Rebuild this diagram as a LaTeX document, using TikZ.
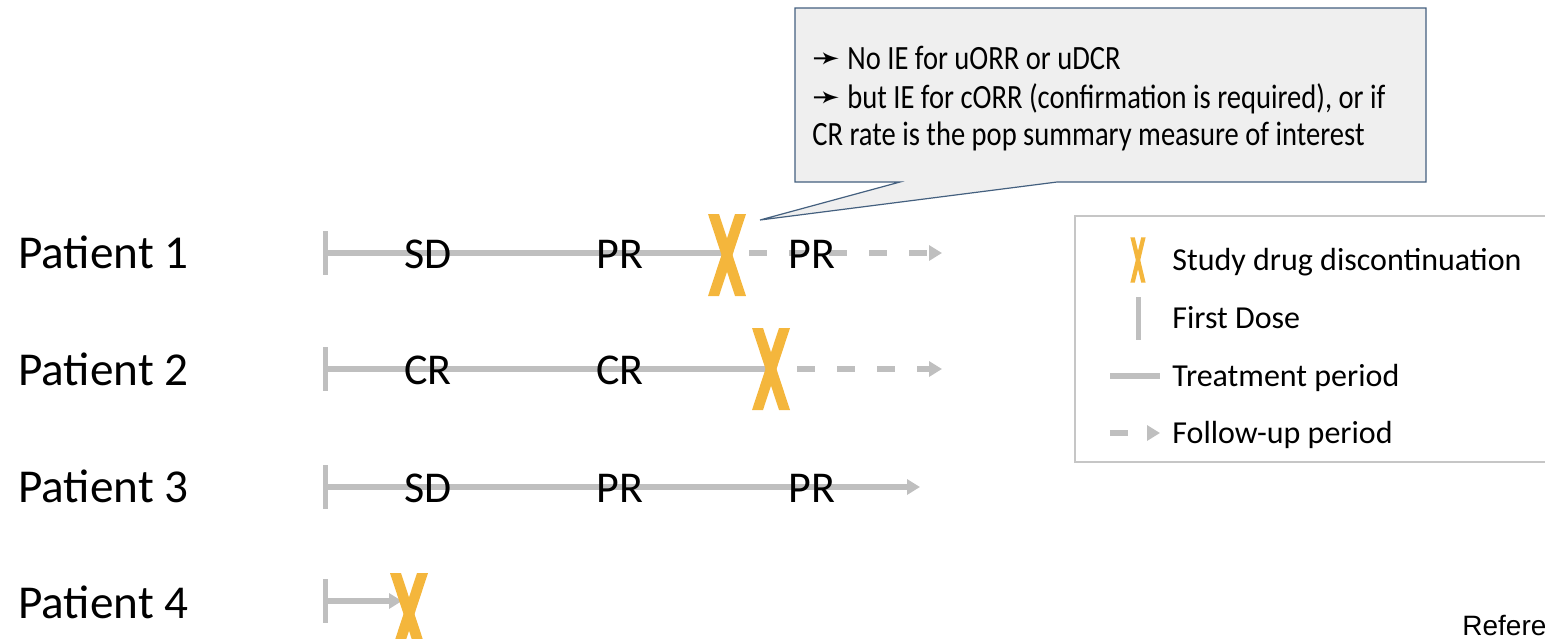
\documentclass[tikz,border=0pt]{standalone}
\usepackage{fontspec}
\setmainfont{Carlito}
\newfontfamily\condfont[FakeStretch=0.84]{Carlito}
\newfontfamily\symfont{DejaVu Sans}
\newfontfamily\helvfont{Liberation Sans}
\usetikzlibrary{arrows.meta}
\definecolor{tgray}{HTML}{BFBFBF}
\definecolor{xorange}{HTML}{F4B63C}
\definecolor{calloutfill}{HTML}{EFEFEF}
\definecolor{calloutdraw}{HTML}{44607F}
\definecolor{legdraw}{HTML}{C6C6C6}
\tikzset{
  treat/.style={draw=tgray, line width=3pt},
  follow/.style={draw=tgray, line width=3pt, dash pattern=on 9pt off 11pt},
  tipped/.style={-{Triangle[length=6.5pt,width=7.5pt]}},
  firstdose/.style={draw=tgray, line width=2.5pt},
  ptlabel/.style={font=\fontsize{23.6}{26}\selectfont, anchor=base west, inner sep=0pt},
  resp/.style={font=\fontsize{22}{26}\selectfont, anchor=base, inner sep=0pt},
  legtext/.style={font=\fontsize{16}{19}\selectfont, anchor=base west, inner sep=0pt},
  calltext/.style={font=\condfont\fontsize{17}{19}\selectfont, anchor=base west, inner sep=0pt},
  xcross/.pic={
    \fill[xorange] (-19,-41) -- (-8,-41) -- (19,41) -- (8,41) -- cycle;
    \fill[xorange] (8,-41) -- (19,-41) -- (-8,41) -- (-19,41) -- cycle;
  }
}
\begin{document}
\begin{tikzpicture}[x=0.5pt,y=-0.5pt]
\useasboundingbox (0,0) rectangle (1545,638);
\clip (0,0) rectangle (1545,638);

% callout
\draw[fill=calloutfill, draw=calloutdraw, line width=0.6pt]
  (795,8) -- (1426,8) -- (1426,182) -- (1057,182) -- (760,220) -- (900,182) -- (795,182) -- cycle;
\node[calltext] (c1) at (812,69) {{\symfont ➛}\ No IE for uORR or uDCR};
\node[calltext] (c2) at (812,108) {{\symfont ➛}\ but IE for cORR (confirmation is required), or if};
\node[calltext] (c3) at (812,145) {CR rate is the pop summary measure of interest};

% patient labels
\node[ptlabel] (p1) at (18,268) {Patient 1};
\node[ptlabel] (p2) at (18,385) {Patient 2};
\node[ptlabel] (p3) at (18,502) {Patient 3};
\node[ptlabel] (p4) at (18,618) {Patient 4};

% coordinates
\coordinate (s1) at (325,253);
\coordinate (x1) at (727,255);
\coordinate (f1) at (749,253);
\coordinate (e1) at (942,253);
\coordinate (s2) at (325,369);
\coordinate (x2) at (771,369);
\coordinate (f2) at (797,369);
\coordinate (e2) at (942,369);
\coordinate (s3) at (325,487);
\coordinate (e3) at (920,487);
\coordinate (s4) at (325,601);
\coordinate (e4) at (402,601);
\coordinate (x4) at (409,614);

% first dose ticks
\foreach \s in {s1,s2,s3,s4}
  \draw[firstdose] ([yshift=11pt]\s) -- ([yshift=-11pt]\s);

% patient 1
\draw[treat] (s1) -- (x1 |- s1);
\draw[follow,tipped] (f1) -- (e1);
\node[resp] (r11) at (428,268) {SD};
\node[resp] (r12) at (620,268) {PR};
\node[resp] (r13) at (812,268) {PR};
\pic at (x1) {xcross};

% patient 2
\draw[treat] (s2) -- (x2);
\draw[follow,tipped] (f2) -- (e2);
\node[resp] (r21) at (428,384) {CR};
\node[resp] (r22) at (620,384) {CR};
\pic at (x2) {xcross};

% patient 3
\draw[treat,tipped] (s3) -- (e3);
\node[resp] (r31) at (428,502) {SD};
\node[resp] (r32) at (620,502) {PR};
\node[resp] (r33) at (812,502) {PR};

% patient 4
\draw[treat,tipped] (s4) -- (e4);
\pic at (x4) {xcross};

% legend
\draw[legdraw, line width=0.8pt] (1075,216) rectangle (1565,462);
\pic[xscale=0.4, yscale=0.55] at (1138,260) {xcross};
\coordinate (ld1) at (1138,297);
\coordinate (ld2) at (1138,340);
\draw[firstdose] (ld1) -- (ld2);
\coordinate (lt1) at (1110,376);
\coordinate (lt2) at (1160,376);
\draw[treat] (lt1) -- (lt2);
\coordinate (lf1) at (1110,433);
\coordinate (lf2) at (1160,433);
\draw[follow,tipped] (lf1) -- (lf2);
\node[legtext] (l1) at (1172,270) {Study drug discontinuation};
\node[legtext] (l2) at (1172,328) {First Dose};
\node[legtext] (l3) at (1172,386) {Treatment period};
\node[legtext] (l4) at (1172,443) {Follow-up period};

% cut-off footer text
\node[font=\helvfont\fontsize{14}{16}\selectfont, anchor=base west, inner sep=0pt] (ref) at (1462,635) {Refere};
\end{tikzpicture}
\end{document}
